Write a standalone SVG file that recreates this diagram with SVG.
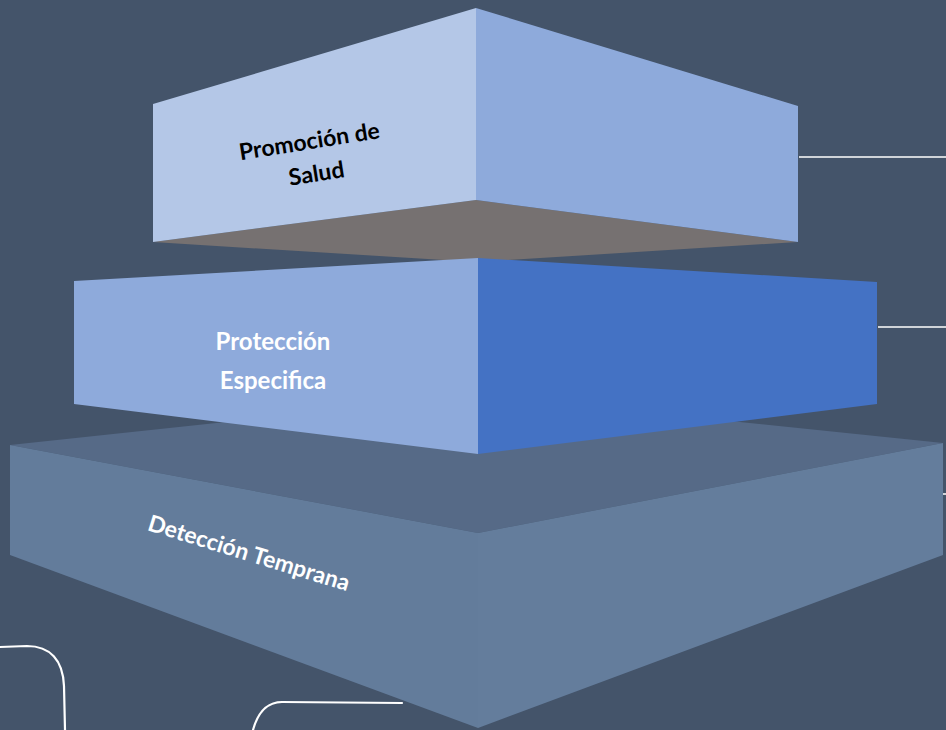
<svg xmlns="http://www.w3.org/2000/svg" width="946" height="730" viewBox="0 0 946 730">
<style>
.lbl{font-family:Lato,"Open Sans","Liberation Sans",sans-serif;font-weight:bold;text-anchor:middle}
.conn{fill:none;stroke:#FFFFFF;stroke-width:1.5}
.curve{fill:none;stroke:#FFFFFF;stroke-width:2.2;stroke-linecap:round}
</style>
<rect x="0" y="0" width="946" height="730" fill="#44546A"/>
<g id="connectors">
<line class="conn" x1="799" y1="157" x2="946" y2="157"/>
<line class="conn" x1="878" y1="327" x2="946" y2="327"/>
<line class="conn" x1="943" y1="494" x2="946" y2="494"/>
<path class="curve" d="M0,647 L27,646 C50,646 63,660 64,686 L65,730"/>
<path class="curve" d="M402,703 L282,702 C268,702 258,712 253,730"/>
</g>
<g id="deteccion-temprana">
<polygon points="10,445 478,395 943,443 478,533" fill="#566A87"/>
<polygon points="10,445 478,533 478,728 10,555" fill="#637C9B"/>
<polygon points="478,533 943,443 943,555 478,728" fill="#647D9C"/>
<text class="lbl" x="249" y="561" font-size="23" fill="#FFFFFF" transform="rotate(17 249 553)">Detección Temprana</text>
</g>
<g id="promocion-de-salud">
<polygon points="153,242 476,200 798,242 476,262" fill="#767171"/>
<polygon points="153,104 476,8 476,200 153,242" fill="#B4C7E7"/>
<polygon points="476,8 798,106 798,242 476,200" fill="#8EAADB"/>
<g transform="rotate(-9 312 158)">
<text class="lbl" x="312" y="149" font-size="23" fill="#000000">Promoción de</text>
<text class="lbl" x="314" y="182" font-size="23" fill="#000000">Salud</text>
</g>
</g>
<g id="proteccion-especifica">
<polygon points="74,281 478,258 478,454 74,404" fill="#8EAADB"/>
<polygon points="478,258 877,282 877,404 478,454" fill="#4472C4"/>
<text class="lbl" x="273" y="350" font-size="24" fill="#FFFFFF">Protección</text>
<text class="lbl" x="273" y="389" font-size="24" fill="#FFFFFF">Especifica</text>
</g>
</svg>
